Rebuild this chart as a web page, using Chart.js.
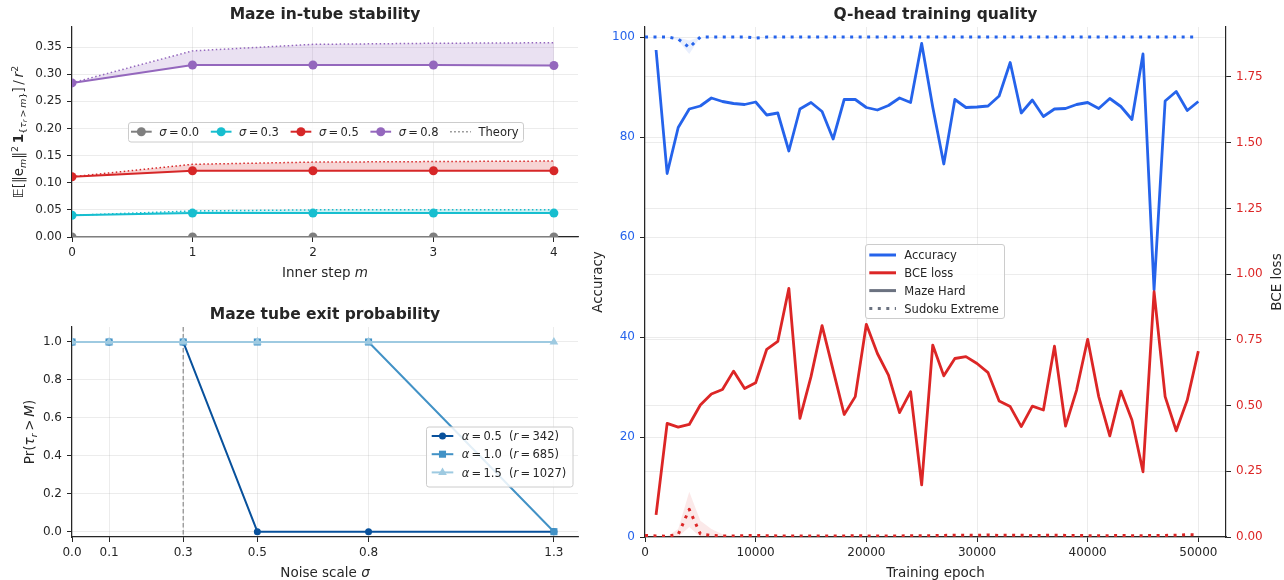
<!DOCTYPE html>
<html lang="en">
<head>
<meta charset="utf-8">
<title>Maze tube stability and Q-head training</title>
<script src="https://cdn.jsdelivr.net/npm/chart.js@4.4.1/dist/chart.umd.min.js"></script>
<style>
  html, body { margin: 0; padding: 0; background: #ffffff; }
  #figure { position: relative; width: 1284px; height: 580px; overflow: hidden; background: #ffffff; }
  #figure canvas { position: absolute; }
</style>
</head>
<body>
<div id="figure">
  <canvas id="stability" width="600" height="290" style="left:0;top:0;width:600px;height:290px"></canvas>
  <canvas id="exitprob" width="600" height="290" style="left:0;top:290px;width:600px;height:290px"></canvas>
  <canvas id="qhead" width="704" height="580" style="left:580px;top:0;width:704px;height:580px"></canvas>
</div>
<script>
// ---------- Maze in-tube stability ----------
const INNER_STEPS = [0, 1, 2, 3, 4];
const STEP_TICKS = [0, 1, 2, 3, 4];
const STAB_TICKS = [0, 0.05, 0.10, 0.15, 0.20, 0.25, 0.30, 0.35];
const SIGMA_LABELS = ['0.0', '0.3', '0.5', '0.8'];
const EMP_SIGMA_00 = [0, 0, 0, 0, 0];
const EMP_SIGMA_03 = [0.040, 0.044, 0.044, 0.044, 0.044];
const EMP_SIGMA_05 = [0.111, 0.122, 0.122, 0.122, 0.122];
const EMP_SIGMA_08 = [0.284, 0.317, 0.317, 0.317, 0.316];
const THEORY_SIGMA_00 = [0, 0, 0, 0, 0];
const THEORY_SIGMA_03 = [0.040, 0.048, 0.050, 0.050, 0.050];
const THEORY_SIGMA_05 = [0.111, 0.134, 0.138, 0.139, 0.140];
const THEORY_SIGMA_08 = [0.284, 0.343, 0.355, 0.357, 0.358];

// ---------- Maze tube exit probability ----------
const NOISE_SCALES = [0.0, 0.1, 0.3, 0.5, 0.8, 1.3];
const NOISE_TICKS = [0.0, 0.1, 0.3, 0.5, 0.8, 1.3];
const PROB_TICKS = [0, 0.2, 0.4, 0.6, 0.8, 1.0];
const ALPHA_LABELS = ['0.5', '1.0', '1.5'];
const TUBE_RADII = ['342', '685', '1027'];
const STAY_ALPHA_05 = [1, 1, 1, 0, 0, 0];
const STAY_ALPHA_10 = [1, 1, 1, 1, 1, 0];
const STAY_ALPHA_15 = [1, 1, 1, 1, 1, 1];
const TRAIN_NOISE = 0.3;

// ---------- Q-head training quality ----------
const EPOCH_TICKS = [0, 10000, 20000, 30000, 40000, 50000];
const ACC_TICKS = [0, 20, 40, 60, 80, 100];
const BCE_TICKS = [0, 0.25, 0.50, 0.75, 1.00, 1.25, 1.50, 1.75];
const MAZE_EPOCHS = [1000, 2000, 3000, 4000, 5000, 6000, 7000, 8000, 9000, 10000,
  11000, 12000, 13000, 14000, 15000, 16000, 17000, 18000, 19000, 20000,
  21000, 22000, 23000, 24000, 25000, 26000, 27000, 28000, 29000, 30000,
  31000, 32000, 33000, 34000, 35000, 36000, 37000, 38000, 39000, 40000,
  41000, 42000, 43000, 44000, 45000, 46000, 47000, 48000, 49000, 50000];
const MAZE_ACC = [97.4, 72.7, 81.9, 85.6, 86.2, 87.8, 87.1, 86.7, 86.5, 87.0,
  84.4, 84.8, 77.2, 85.6, 86.9, 85.1, 79.6, 87.5, 87.5, 85.9,
  85.4, 86.3, 87.8, 86.9, 98.7, 86.0, 74.6, 87.5, 85.9, 86.0,
  86.2, 88.2, 94.9, 84.8, 87.4, 84.1, 85.6, 85.7, 86.5, 86.9,
  85.7, 87.7, 86.1, 83.5, 96.6, 49.4, 87.2, 89.1, 85.3, 87.1];
const MAZE_BCE = [0.084, 0.432, 0.418, 0.428, 0.502, 0.544, 0.561, 0.631, 0.565, 0.587,
  0.714, 0.744, 0.946, 0.451, 0.610, 0.804, 0.635, 0.466, 0.534, 0.809,
  0.698, 0.616, 0.473, 0.553, 0.198, 0.730, 0.613, 0.679, 0.686, 0.660,
  0.625, 0.517, 0.496, 0.420, 0.498, 0.483, 0.726, 0.422, 0.559, 0.752,
  0.534, 0.385, 0.555, 0.445, 0.248, 0.933, 0.534, 0.404, 0.521, 0.707];
const SUDOKU_EPOCHS = [0, 1000, 2000, 3000, 4000, 5000, 6000, 7000, 8000, 9000, 10000,
  11000, 12000, 13000, 14000, 15000, 16000, 17000, 18000, 19000, 20000,
  21000, 22000, 23000, 24000, 25000, 26000, 27000, 28000, 29000, 30000,
  31000, 32000, 33000, 34000, 35000, 36000, 37000, 38000, 39000, 40000,
  41000, 42000, 43000, 44000, 45000, 46000, 47000, 48000, 49000, 50000];
const SUDOKU_ACC = [100, 100, 100, 99.6, 97.9, 100, 100, 100, 100, 100, 99.8,
  100, 100, 100, 100, 100, 100, 100, 100, 100, 100,
  100, 100, 100, 100, 100, 100, 100, 100, 100, 100,
  100, 100, 100, 100, 100, 100, 100, 100, 100, 100,
  100, 100, 100, 100, 100, 100, 100, 100, 100, 100];
const SUDOKU_ACC_HI = [100, 100, 100, 99.9, 99.3, 100, 100, 100, 100, 100, 99.9,
  100, 100, 100, 100, 100, 100, 100, 100, 100, 100,
  100, 100, 100, 100, 100, 100, 100, 100, 100, 100,
  100, 100, 100, 100, 100, 100, 100, 100, 100, 100,
  100, 100, 100, 100, 100, 100, 100, 100, 100, 100];
const SUDOKU_ACC_LO = [100, 100, 100, 99.3, 96.6, 100, 100, 100, 100, 100, 99.7,
  100, 100, 100, 100, 100, 100, 100, 100, 100, 100,
  100, 100, 100, 100, 100, 100, 100, 100, 100, 100,
  100, 100, 100, 100, 100, 100, 100, 100, 100, 100,
  100, 100, 100, 100, 100, 100, 100, 100, 100, 100];
const SUDOKU_BCE = [0.006, 0.004, 0.003, 0.010, 0.105, 0.012, 0.006, 0.004, 0.004, 0.005, 0.006,
  0.005, 0.004, 0.004, 0.004, 0.004, 0.004, 0.004, 0.004, 0.005, 0.004,
  0.004, 0.004, 0.004, 0.005, 0.005, 0.005, 0.006, 0.007, 0.007, 0.006,
  0.008, 0.006, 0.007, 0.007, 0.005, 0.006, 0.007, 0.006, 0.006, 0.005,
  0.005, 0.005, 0.006, 0.005, 0.005, 0.006, 0.006, 0.007, 0.009, 0.008];
const SUDOKU_BCE_HI = [0.006, 0.004, 0.003, 0.030, 0.172, 0.062, 0.030, 0.010, 0.004, 0.005, 0.006,
  0.005, 0.004, 0.004, 0.004, 0.004, 0.004, 0.004, 0.004, 0.005, 0.004,
  0.004, 0.004, 0.004, 0.005, 0.005, 0.005, 0.006, 0.007, 0.007, 0.006,
  0.008, 0.006, 0.007, 0.007, 0.005, 0.006, 0.007, 0.006, 0.006, 0.005,
  0.005, 0.005, 0.006, 0.005, 0.005, 0.006, 0.006, 0.007, 0.009, 0.008];
const SUDOKU_BCE_LO = [0.006, 0.004, 0.003, 0.000, 0.038, 0.000, 0.000, 0.000, 0.004, 0.005, 0.006,
  0.005, 0.004, 0.004, 0.004, 0.004, 0.004, 0.004, 0.004, 0.005, 0.004,
  0.004, 0.004, 0.004, 0.005, 0.005, 0.005, 0.006, 0.007, 0.007, 0.006,
  0.008, 0.006, 0.007, 0.007, 0.005, 0.006, 0.007, 0.006, 0.006, 0.005,
  0.005, 0.005, 0.006, 0.005, 0.005, 0.006, 0.006, 0.007, 0.009, 0.008];

// ---------- shared styling ----------
const FAMILY = '"DejaVu Sans", sans-serif';
const INK = '#262626';
const SPINE = '#262626';
const GRID = 'rgba(176,176,176,0.3)';
Chart.defaults.font.family = FAMILY;
Chart.defaults.color = INK;

const pts = (xs, ys) => xs.map((x, i) => ({ x, y: ys[i] }));
const rgba = (hex, a) => {
  const n = parseInt(hex.slice(1), 16);
  return `rgba(${(n >> 16) & 255},${(n >> 8) & 255},${n & 255},${a})`;
};

function linearAxis({ position, min, max, ticks, fmt, size, color, pad }) {
  return {
    type: 'linear', position, min, max,
    afterBuildTicks: s => { s.ticks = ticks.map(v => ({ value: v })); },
    afterFit: s => { if (s.isHorizontal()) s.height = size; else s.width = size; },
    ticks: { callback: v => fmt(v), font: { size: 12 }, color: color || INK, padding: pad,
             maxRotation: 0, autoSkip: false },
    grid: { color: GRID, lineWidth: 0.8, tickColor: SPINE, tickLength: 5, tickWidth: 1 },
    border: { display: true, color: SPINE, width: 1.2 }
  };
}

// rich text: segments with italic / bold / sub / sup
function segFont(s, base) {
  const size = s.sub === 2 ? base * 0.5 : (s.sub || s.sup) ? base * 0.7 : base;
  const dy = s.sub === 2 ? base * 0.34 : s.sub ? base * 0.2 : s.sup ? -base * 0.38 : 0;
  return { font: `${s.i ? 'italic ' : ''}${s.b ? 'bold ' : ''}${size}px ${FAMILY}`, dy };
}
function richWidth(ctx, segs, base) {
  let w = 0;
  for (const s of segs) { ctx.font = segFont(s, base).font; w += ctx.measureText(s.t).width; }
  return w;
}
function drawRich(ctx, segs, x, y, base, opt = {}) {
  const align = opt.align || 'center';
  ctx.save();
  ctx.translate(x, y);
  if (opt.rotate) ctx.rotate(opt.rotate);
  const w = richWidth(ctx, segs, base);
  let cx = align === 'center' ? -w / 2 : align === 'right' ? -w : 0;
  ctx.fillStyle = opt.color || INK;
  ctx.textAlign = 'left';
  ctx.textBaseline = 'alphabetic';
  for (const s of segs) {
    const f = segFont(s, base);
    ctx.font = f.font;
    ctx.fillText(s.t, cx, base * 0.36 + f.dy);
    cx += ctx.measureText(s.t).width;
  }
  ctx.restore();
  return w;
}

function drawHandle(ctx, h, x0, x1, y) {
  ctx.save();
  ctx.strokeStyle = h.color;
  ctx.lineWidth = h.width;
  ctx.lineCap = 'butt';
  ctx.setLineDash(h.dash || []);
  ctx.beginPath(); ctx.moveTo(x0, y); ctx.lineTo(x1, y); ctx.stroke();
  ctx.setLineDash([]);
  if (h.marker) {
    ctx.fillStyle = h.color;
    ctx.strokeStyle = h.color;
    Chart.helpers.drawPoint(ctx, { pointStyle: h.marker, radius: h.radius, borderWidth: 0, rotation: 0 }, (x0 + x1) / 2, y);
  }
  ctx.restore();
}

function drawFrame(ctx, b) {
  ctx.save();
  ctx.beginPath();
  ctx.roundRect(b.x + 0.5, b.y + 0.5, b.w, b.h, 2.5);
  ctx.fillStyle = 'rgba(255,255,255,0.85)';
  ctx.fill();
  ctx.strokeStyle = '#cccccc';
  ctx.lineWidth = 1;
  ctx.stroke();
  ctx.restore();
}

// overlay: titles, axis labels and legend box
function overlay(id, cfg) {
  return {
    id,
    beforeDatasetsDraw(chart) {
      if (!cfg.vline) return;
      const { ctx, chartArea: a } = chart;
      const x = chart.scales.x.getPixelForValue(cfg.vline.value);
      ctx.save();
      ctx.strokeStyle = cfg.vline.color; ctx.lineWidth = cfg.vline.width;
      ctx.setLineDash(cfg.vline.dash);
      ctx.beginPath(); ctx.moveTo(x, a.top); ctx.lineTo(x, a.bottom); ctx.stroke();
      ctx.restore();
    },
    afterDraw(chart) {
      const { ctx, chartArea: a } = chart;
      const cx = (a.left + a.right) / 2;
      ctx.save();
      ctx.fillStyle = INK;
      ctx.font = `bold 15.5px ${FAMILY}`;
      ctx.textAlign = 'center';
      ctx.textBaseline = 'middle';
      ctx.fillText(cfg.title, cx, cfg.titleY);
      ctx.restore();
      for (const L of cfg.labels) {
        drawRich(ctx, L.segs, L.x === 'c' ? cx : L.x, L.y === 'c' ? (a.top + a.bottom) / 2 : L.y, 13.5,
                 { rotate: L.rot || 0 });
      }
      const lg = cfg.legend;
      if (!lg) return;
      drawFrame(ctx, lg.box);
      if (lg.layout === 'row') {
        let x = lg.box.x + lg.padL;
        const y = lg.box.y + lg.rowTop;
        for (const it of lg.items) {
          drawHandle(ctx, it, x, x + lg.handle, y);
          x += lg.handle + lg.gap;
          x += drawRich(ctx, it.segs, x, y, lg.font, { align: 'left' });
          x += lg.colGap;
        }
      } else {
        lg.items.forEach((it, k) => {
          const y = lg.box.y + lg.rowTop + k * lg.rowH;
          const x = lg.box.x + lg.padL;
          drawHandle(ctx, it, x, x + lg.handle, y);
          drawRich(ctx, it.segs, x + lg.handle + lg.gap, y, lg.font, { align: 'left' });
        });
      }
    }
  };
}

const baseOptions = (padding) => ({
  responsive: false,
  animation: false,
  devicePixelRatio: 1,
  events: [],
  layout: { padding },
  plugins: { legend: { display: false }, tooltip: { enabled: false }, title: { display: false } },
  elements: { line: { tension: 0, borderJoinStyle: 'round' } }
});

// ================= Chart 1: in-tube stability =================
(function () {
  const colors = ['#7f7f7f', '#17becf', '#d62728', '#9467bd'];
  const emp = [EMP_SIGMA_00, EMP_SIGMA_03, EMP_SIGMA_05, EMP_SIGMA_08];
  const theory = [THEORY_SIGMA_00, THEORY_SIGMA_03, THEORY_SIGMA_05, THEORY_SIGMA_08];
  const datasets = [];
  SIGMA_LABELS.forEach((lab, k) => {
    const c = colors[k];
    datasets.push({
      label: 'σ = ' + lab, data: pts(INNER_STEPS, emp[k]),
      borderColor: c, backgroundColor: c, borderWidth: 2, borderJoinStyle: 'round',
      pointRadius: 4.5, pointBorderWidth: 0, pointBackgroundColor: c,
      clip: 0, order: -(2 * k + 1)
    });
    datasets.push({
      label: 'Theory', data: pts(INNER_STEPS, theory[k]),
      borderColor: c, borderWidth: 1.5, borderDash: [1.5, 2.5], pointRadius: 0,
      fill: '-1', backgroundColor: rgba(c, 0.2), clip: 0, order: -(2 * k)
    });
  });
  const opts = baseOptions({ top: 27, right: 22, bottom: 0, left: 0 });
  opts.scales = {
    x: linearAxis({ position: 'bottom', min: 0, max: 4.2, ticks: STEP_TICKS, fmt: v => String(v), size: 53, pad: 4 }),
    y: linearAxis({ position: 'left', min: 0, max: 0.387, ticks: STAB_TICKS, fmt: v => v.toFixed(2), size: 72, pad: 5 })
  };
  const legendItems = SIGMA_LABELS.map((lab, k) => ({
    segs: [{ t: 'σ', i: 1 }, { t: '\u2009=\u2009' + lab }],
    color: colors[k], width: 2, marker: 'circle', radius: 4.5
  }));
  legendItems.push({ segs: [{ t: 'Theory' }], color: '#7f7f7f', width: 1.5, dash: [1.5, 2.5] });
  new Chart(document.getElementById('stability'), {
    type: 'line', data: { datasets }, options: opts,
    plugins: [overlay('stabDeco', {
      title: 'Maze in-tube stability', titleY: 15,
      labels: [
        { segs: [{ t: 'Inner step ' }, { t: 'm', i: 1 }], x: 'c', y: 272 },
        { segs: [{ t: '𝔼[‖e' }, { t: 'm', i: 1, sub: 1 }, { t: '‖' }, { t: '2', sup: 1 }, { t: '\u2009' },
                 { t: '1', b: 1 }, { t: '{', sub: 1 }, { t: 'τ', i: 1, sub: 1 }, { t: 'r', i: 1, sub: 2 },
                 { t: '\u2009>\u2009', sub: 1 }, { t: 'm', i: 1, sub: 1 }, { t: '}', sub: 1 },
                 { t: ']\u2009/\u2009' }, { t: 'r', i: 1 }, { t: '2', sup: 1 }],
          x: 18, y: 'c', rot: -Math.PI / 2 }
      ],
      legend: {
        layout: 'row', box: { x: 128, y: 122, w: 395, h: 19.5 }, padL: 3, rowTop: 9.7,
        handle: 20.7, gap: 7.6, colGap: 11.7, font: 11.5, items: legendItems
      }
    })]
  });
})();

// ================= Chart 2: tube exit probability =================
(function () {
  const colors = ['#08519c', '#4292c6', '#9ecae1'];
  const series = [STAY_ALPHA_05, STAY_ALPHA_10, STAY_ALPHA_15];
  const shapes = ['circle', 'rect', 'triangle'];
  const radii = [3.5, 5, 5];
  const datasets = ALPHA_LABELS.map((lab, k) => ({
    label: 'α = ' + lab, data: pts(NOISE_SCALES, series[k]),
    borderColor: colors[k], backgroundColor: colors[k], borderWidth: 2, borderJoinStyle: 'round',
    pointStyle: shapes[k], pointRadius: radii[k], pointBorderWidth: 0,
    pointBackgroundColor: colors[k], clip: 0, order: 2 - k
  }));
  const opts = baseOptions({ top: 37, right: 22, bottom: 0, left: 0 });
  opts.scales = {
    x: linearAxis({ position: 'bottom', min: 0, max: 1.365, ticks: NOISE_TICKS, fmt: v => v.toFixed(1), size: 43, pad: 4 }),
    y: linearAxis({ position: 'left', min: -0.028, max: 1.079, ticks: PROB_TICKS, fmt: v => v.toFixed(1), size: 72, pad: 5 })
  };
  const legendItems = ALPHA_LABELS.map((lab, k) => ({
    segs: [{ t: 'α', i: 1 }, { t: '\u2009=\u2009' + lab + '  (' }, { t: 'r', i: 1 }, { t: '\u2009=\u2009' + TUBE_RADII[k] + ')' }],
    color: colors[k], width: 2, marker: shapes[k], radius: radii[k]
  }));
  new Chart(document.getElementById('exitprob'), {
    type: 'line', data: { datasets }, options: opts,
    plugins: [overlay('exitDeco', {
      title: 'Maze tube exit probability', titleY: 25,
      vline: { value: TRAIN_NOISE, color: '#8c8c8c', width: 1.2, dash: [4.5, 2.5] },
      labels: [
        { segs: [{ t: 'Noise scale ' }, { t: 'σ', i: 1 }], x: 'c', y: 282 },
        { segs: [{ t: 'Pr(' }, { t: 'τ', i: 1 }, { t: 'r', i: 1, sub: 1 }, { t: '\u2009>\u2009' }, { t: 'M', i: 1 }, { t: ')' }],
          x: 29, y: 'c', rot: -Math.PI / 2 }
      ],
      legend: {
        layout: 'col', box: { x: 426, y: 136.5, w: 146.5, h: 60 }, padL: 5.7, rowTop: 9.5, rowH: 18.2,
        handle: 21.6, gap: 8.4, font: 11.5, items: legendItems
      }
    })]
  });
})();

// ================= Chart 3: Q-head training quality =================
(function () {
  const BLUE = '#2563eb', RED = '#dc2626', GREY = '#6b7280';
  const DOT = [3, 5.5];
  const datasets = [
    { label: 'Maze Hard BCE', data: pts(MAZE_EPOCHS, MAZE_BCE), yAxisID: 'y1',
      borderColor: RED, borderWidth: 2.8, borderJoinStyle: 'round', pointRadius: 0, order: 1 },
    { label: 'Sudoku Extreme BCE', data: pts(SUDOKU_EPOCHS, SUDOKU_BCE), yAxisID: 'y1',
      borderColor: RED, borderWidth: 3, borderDash: DOT, borderJoinStyle: 'round', pointRadius: 0, order: 2 },
    { label: 'Maze Hard accuracy', data: pts(MAZE_EPOCHS, MAZE_ACC), yAxisID: 'y',
      borderColor: BLUE, borderWidth: 2.8, borderJoinStyle: 'round', pointRadius: 0, order: 3 },
    { label: 'Sudoku Extreme accuracy', data: pts(SUDOKU_EPOCHS, SUDOKU_ACC), yAxisID: 'y',
      borderColor: BLUE, borderWidth: 3, borderDash: DOT, borderJoinStyle: 'round', pointRadius: 0, order: 4 },
    { label: 'Sudoku BCE upper', data: pts(SUDOKU_EPOCHS, SUDOKU_BCE_HI), yAxisID: 'y1',
      borderWidth: 0, pointRadius: 0, fill: '+1', backgroundColor: rgba(RED, 0.1), order: 5 },
    { label: 'Sudoku BCE lower', data: pts(SUDOKU_EPOCHS, SUDOKU_BCE_LO), yAxisID: 'y1',
      borderWidth: 0, pointRadius: 0, order: 6 },
    { label: 'Sudoku accuracy upper', data: pts(SUDOKU_EPOCHS, SUDOKU_ACC_HI), yAxisID: 'y',
      borderWidth: 0, pointRadius: 0, fill: '+1', backgroundColor: rgba(BLUE, 0.1), order: 7 },
    { label: 'Sudoku accuracy lower', data: pts(SUDOKU_EPOCHS, SUDOKU_ACC_LO), yAxisID: 'y',
      borderWidth: 0, pointRadius: 0, order: 8 }
  ];
  const opts = baseOptions({ top: 27, right: 0, bottom: 0, left: 0 });
  opts.scales = {
    x: linearAxis({ position: 'bottom', min: 0, max: 52500, ticks: EPOCH_TICKS, fmt: v => String(v), size: 43, pad: 4 }),
    y: linearAxis({ position: 'left', min: 0, max: 102, ticks: ACC_TICKS, fmt: v => String(v), size: 65, pad: 5, color: BLUE }),
    y1: linearAxis({ position: 'right', min: 0, max: 1.94, ticks: BCE_TICKS, fmt: v => v.toFixed(2), size: 58, pad: 5, color: RED })
  };
  const legendItems = [
    { segs: [{ t: 'Accuracy' }], color: BLUE, width: 3 },
    { segs: [{ t: 'BCE loss' }], color: RED, width: 3 },
    { segs: [{ t: 'Maze Hard' }], color: GREY, width: 3 },
    { segs: [{ t: 'Sudoku Extreme' }], color: GREY, width: 3, dash: DOT }
  ];
  new Chart(document.getElementById('qhead'), {
    type: 'line', data: { datasets }, options: opts,
    plugins: [overlay('qheadDeco', {
      title: 'Q-head training quality', titleY: 15,
      labels: [
        { segs: [{ t: 'Training epoch' }], x: 'c', y: 572 },
        { segs: [{ t: 'Accuracy' }], x: 17, y: 'c', rot: -Math.PI / 2 },
        { segs: [{ t: 'BCE loss' }], x: 696, y: 'c', rot: -Math.PI / 2 }
      ],
      legend: {
        layout: 'col', box: { x: 285, y: 244, w: 139, h: 74 }, padL: 4.3, rowTop: 11, rowH: 17.8,
        handle: 26.7, gap: 8.3, font: 11.5, items: legendItems
      }
    })]
  });
})();
</script>
</body>
</html>
